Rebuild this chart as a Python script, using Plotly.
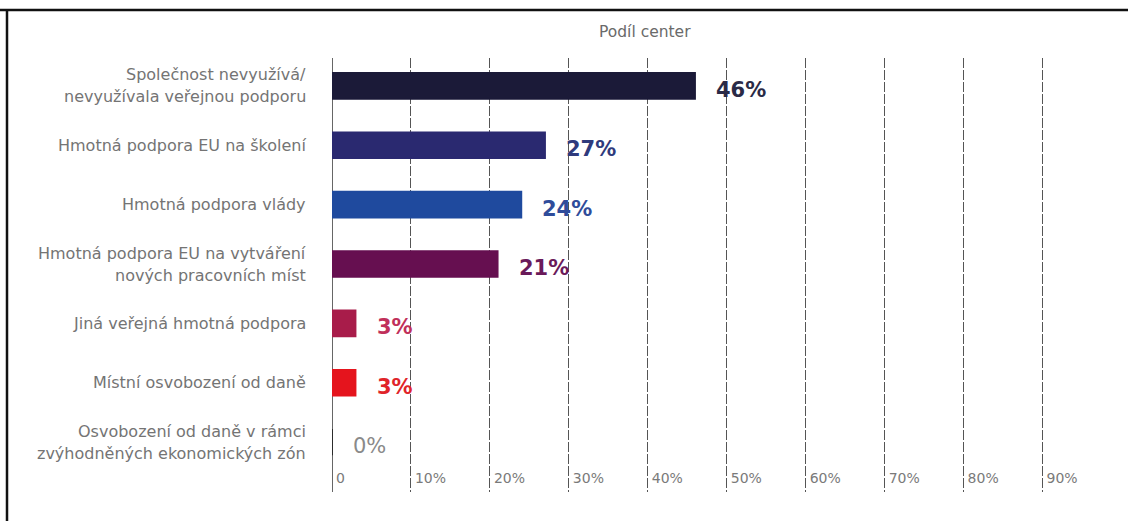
import plotly.graph_objects as go

# Share of centres by type of public support used
categories = [
    "Společnost nevyužívá/\nnevyužívala veřejnou podporu",
    "Hmotná podpora EU na školení",
    "Hmotná podpora vlády",
    "Hmotná podpora EU na vytváření\nnových pracovních míst",
    "Jiná veřejná hmotná podpora",
    "Místní osvobození od daně",
    "Osvobození od daně v rámci\nzvýhodněných ekonomických zón",
]
values = [46, 27, 24, 21, 3, 3, 0]
value_labels = ["46%", "27%", "24%", "21%", "3%", "3%", "0%"]
bar_colors = ["#1b1a38", "#2a2970", "#1f4a9e", "#660f50", "#a81c4a", "#e5141d", "#1a1a1a"]
label_colors = ["#2a2a46", "#2f3a7c", "#2f4c9a", "#6a1a5a", "#c0305a", "#e0242a", "#8a8a8a"]
label_bold = [True, True, True, True, True, True, False]
tick_values = [0, 10, 20, 30, 40, 50, 60, 70, 80, 90]
tick_text = ["0", "10%", "20%", "30%", "40%", "50%", "60%", "70%", "80%", "90%"]
axis_title = "Podíl center"

FONT = "DejaVu Sans"
idx = list(range(len(categories)))

fig = go.Figure()
fig.add_trace(go.Bar(
    x=values,
    y=idx,
    orientation="h",
    marker=dict(color=bar_colors, line=dict(color=bar_colors, width=1.5)),
    width=0.44,
    hoverinfo="skip",
))

annotations = []
# value labels to the right of each bar
for i, (v, t, c, b) in enumerate(zip(values, value_labels, label_colors, label_bold)):
    annotations.append(dict(
        x=v, y=i, xref="x", yref="y", text=f"<b>{t}</b>" if b else t,
        showarrow=False, xanchor="left", yanchor="middle", xshift=19, yshift=-4,
        font=dict(family=FONT, size=21, color=c),
    ))

# category labels, with generous line spacing
for i, cat in enumerate(categories):
    lines = cat.split("\n")
    n = len(lines)
    for j, line in enumerate(lines):
        annotations.append(dict(
            x=0, y=i, xref="x", yref="y", text=line, showarrow=False,
            xanchor="right", yanchor="middle", xshift=-24,
            yshift=(n - 1) / 2 * 22 - j * 22,
            font=dict(family=FONT, size=16, color="#747474"),
        ))

annotations.append(dict(
    x=39.6, y=1.0, xref="x", yref="paper", yshift=15, text=axis_title,
    showarrow=False, xanchor="center", yanchor="bottom",
    font=dict(family=FONT, size=15.5, color="#6a6a6a"),
))

fig.update_layout(
    width=1128, height=521,
    margin=dict(l=332, r=46, t=58, b=29),
    paper_bgcolor="white", plot_bgcolor="white",
    showlegend=False,
    annotations=annotations,
    font=dict(family=FONT),
    shapes=[
        dict(type="line", xref="paper", yref="paper", x0=-332 / 750, x1=(750 + 46) / 750,
             y0=(434 + 58 - 10) / 434, y1=(434 + 58 - 10) / 434,
             line=dict(color="#111111", width=2.5)),
        dict(type="line", xref="paper", yref="paper", x0=-325 / 750, x1=-325 / 750,
             y0=-29 / 434, y1=(434 + 58 - 10) / 434,
             line=dict(color="#111111", width=2.5)),
    ],
)
fig.update_xaxes(
    range=[0, 95],
    tickvals=tick_values, ticktext=tick_text,
    ticklabelposition="inside right", ticklabelshift=4,
    tickfont=dict(family=FONT, size=14, color="#7a7a7a"),
    showgrid=True, gridcolor="#555555", gridwidth=1, griddash="10px,2px",
    zeroline=True, zerolinecolor="#666666", zerolinewidth=1,
    showline=False, ticks="", fixedrange=True,
)
fig.update_yaxes(
    range=[6.84, -0.47],
    showticklabels=False, showgrid=False, zeroline=False, showline=False,
    fixedrange=True,
)

fig.write_html("out.html")
